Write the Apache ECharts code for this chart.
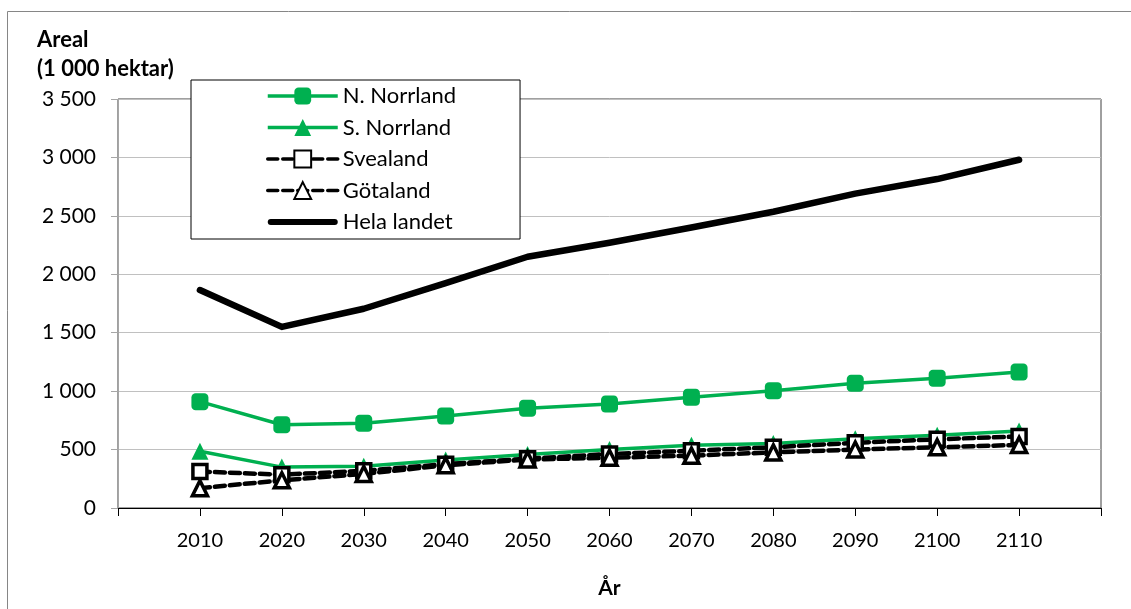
<!DOCTYPE html>
<html>
<head>
<meta charset="utf-8">
<title>Areal</title>
<script src="https://cdn.jsdelivr.net/npm/echarts@6/dist/echarts.min.js"></script>
<style>
  html, body { margin: 0; padding: 0; background: #fff; }
  #chart { width: 1131px; height: 609px; }
</style>
</head>
<body>
<div id="chart"></div>
<script>
// år på x-axeln
var years = [2010, 2020, 2030, 2040, 2050, 2060, 2070, 2080, 2090, 2100, 2110]
// areal, 1 000 hektar
var nNorrland = [910, 712, 725, 787, 853, 890, 948, 1004, 1067, 1110, 1163]
var sNorrland = [485, 350, 357, 410, 458, 500, 538, 553, 592, 622, 658]
var svealand = [312, 285, 318, 375, 422, 462, 490, 520, 558, 588, 612]
var gotaland = [170, 237, 292, 365, 415, 430, 448, 476, 500, 520, 540]
var helaLandet = [1865, 1550, 1705, 1925, 2150, 2270, 2400, 2535, 2690, 2815, 2980]
var yTicks = [0, 500, 1000, 1500, 2000, 2500, 3000, 3500]

var font = 'Lato'
var green = '#00b050'
var dash = [10, 5]

function pairs (arr) {
  return years.map(function (y, i) { return [y, arr[i]] })
}

var myChart = echarts.init(document.getElementById('chart'))
myChart.setOption({
  animation: false,
  backgroundColor: '#fff',
  textStyle: { fontFamily: font, color: '#000' },
  graphic: [
    {
      type: 'rect',
      shape: { x: 7.5, y: 11.5, width: 1300, height: 800 },
      style: { fill: 'none', stroke: '#868686', lineWidth: 1 },
      silent: true
    }
  ],
  title: {
    text: 'Areal\n(1 000 hektar)',
    left: 32,
    top: 20,
    textStyle: { fontFamily: font, fontWeight: 'bold', fontSize: 22, lineHeight: 29, color: '#000' }
  },
  legend: {
    orient: 'vertical',
    left: 191,
    top: 80,
    padding: [5, 64, 6, 75],
    itemGap: 9.5,
    itemWidth: 70,
    itemHeight: 21,
    backgroundColor: '#fff',
    borderColor: '#000',
    borderWidth: 1,
    textStyle: { fontFamily: font, fontSize: 22, color: '#000' },
    data: [
      { name: 'N. Norrland', lineStyle: { width: 3.5 } },
      { name: 'S. Norrland', lineStyle: { width: 3.5 } },
      { name: 'Svealand', lineStyle: { width: 3.5, type: dash } },
      { name: 'Götaland', lineStyle: { width: 3.5, type: dash } },
      { name: 'Hela landet', icon: 'path://M3,0 L67,0 A3,3 0 0 1 67,6 L3,6 A3,3 0 0 1 3,0 Z', itemStyle: { color: '#000' } }
    ]
  },
  grid: {
    left: 118,
    right: 30,
    top: 99,
    bottom: 101,
    show: true,
    borderColor: '#404040',
    borderWidth: 1
  },
  xAxis: {
    type: 'value',
    min: 2000,
    max: 2120,
    interval: 10,
    name: 'År',
    nameLocation: 'middle',
    nameGap: 70,
    nameTextStyle: { fontFamily: font, fontWeight: 'bold', fontSize: 21, color: '#000' },
    axisLine: { lineStyle: { color: '#000', width: 1 } },
    axisTick: { show: true, length: 8, lineStyle: { color: '#000' } },
    splitLine: { show: false },
    axisLabel: {
      margin: 23,
      fontFamily: font,
      fontSize: 20,
      color: '#000',
      formatter: function (v) {
        return years.indexOf(v) >= 0 ? String(v) : ''
      }
    }
  },
  yAxis: {
    type: 'value',
    min: yTicks[0],
    max: yTicks[yTicks.length - 1],
    interval: 500,
    axisLine: { show: true, lineStyle: { color: '#a6a6a6', width: 1 } },
    axisTick: { show: true, length: 7, lineStyle: { color: '#a6a6a6' } },
    splitLine: { lineStyle: { color: '#c0c0c0', width: 1 } },
    axisLabel: {
      margin: 22,
      fontFamily: font,
      fontSize: 21,
      color: '#000',
      formatter: function (v) {
        return String(v).replace(/\B(?=(\d{3})+(?!\d))/g, ' ')
      }
    }
  },
  series: [
    {
      name: 'N. Norrland',
      type: 'line',
      data: pairs(nNorrland),
      symbol: 'roundRect',
      symbolSize: 17,
      itemStyle: { color: green },
      lineStyle: { color: green, width: 3.5 }
    },
    {
      name: 'S. Norrland',
      type: 'line',
      data: pairs(sNorrland),
      symbol: 'triangle',
      symbolSize: 17,
      itemStyle: { color: green },
      lineStyle: { color: green, width: 3.5 }
    },
    {
      name: 'Svealand',
      type: 'line',
      data: pairs(svealand),
      symbol: 'rect',
      symbolSize: 14,
      itemStyle: { color: '#fff', borderColor: '#000', borderWidth: 3.5 },
      lineStyle: { color: '#000', width: 4.5, type: dash, cap: 'round' }
    },
    {
      name: 'Götaland',
      type: 'line',
      data: pairs(gotaland),
      symbol: 'triangle',
      symbolSize: 15,
      itemStyle: { color: '#fff', borderColor: '#000', borderWidth: 3.5 },
      lineStyle: { color: '#000', width: 4.5, type: dash, cap: 'round' }
    },
    {
      name: 'Hela landet',
      type: 'line',
      data: pairs(helaLandet),
      showSymbol: false,
      symbol: 'none',
      itemStyle: { color: '#000' },
      lineStyle: { color: '#000', width: 6.5, cap: 'round', join: 'round' }
    }
  ]
})
</script>
</body>
</html>
